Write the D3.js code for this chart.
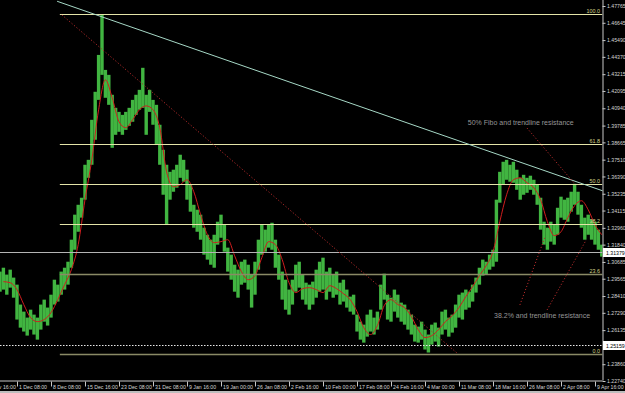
<!DOCTYPE html>
<html>
<head>
<meta charset="utf-8">
<script src="https://cdn.jsdelivr.net/npm/d3@7"></script>
<style>
  body { margin: 0; background: #000; overflow: hidden; }
  svg { display: block; font-family: "Liberation Sans", Arial, sans-serif; }
</style>
</head>
<body>
<svg id="chart" width="625" height="393"></svg>
<script>
/* price axis labels (right side) */
const priceTicks = [1.47765, 1.46645, 1.45490, 1.44370, 1.43215, 1.42095, 1.40940, 1.39785,
    1.38665, 1.37510, 1.36390, 1.35235, 1.34115, 1.32960, 1.31840, 1.30685, 1.29565,
    1.28410, 1.27290, 1.26135, 1.23860, 1.22740];

/* time axis labels, one every barsPerLabel bars */
const timeLabels = ["24 Nov 16:00", "1 Dec 08:00", "8 Dec 08:00", "15 Dec 16:00", "23 Dec 08:00",
    "31 Dec 08:00", "9 Jan 16:00", "19 Jan 00:00", "26 Jan 08:00", "2 Feb 16:00", "10 Feb 00:00",
    "17 Feb 08:00", "24 Feb 16:00", "4 Mar 00:00", "11 Mar 08:00", "18 Mar 16:00", "26 Mar 08:00",
    "2 Apr 08:00", "9 Apr 16:00"];
const barsPerLabel = 10;

/* price bars, first visible bar index = firstBar */
const firstBar = 5;
const barHigh = [
    1.3004, 1.3030, 1.2984, 1.3017, 1.2964, 1.2917, 1.2784, 1.2737, 1.2697, 1.2750,
    1.2717, 1.2697, 1.2784, 1.2817, 1.2764, 1.2850, 1.2950, 1.2917, 1.3004, 1.3030,
    1.3070, 1.3217, 1.3384, 1.3450, 1.3497, 1.3717, 1.3750, 1.4017, 1.4204, 1.4450,
    1.4717, 1.4350, 1.4317, 1.4184, 1.4097, 1.4070, 1.4050, 1.4070, 1.4097, 1.4150,
    1.4184, 1.4217, 1.4364, 1.4184, 1.4217, 1.4150, 1.4117, 1.3984, 1.3817, 1.3717,
    1.3670, 1.3684, 1.3717, 1.3784, 1.3750, 1.3684, 1.3584, 1.3450, 1.3417, 1.3384,
    1.3297, 1.3250, 1.3217, 1.3250, 1.3337, 1.3384, 1.3317, 1.3164, 1.3117, 1.3050,
    1.3017, 1.3070, 1.3084, 1.3050, 1.2984, 1.3070, 1.3217, 1.3317, 1.3284, 1.3317,
    1.3330, 1.3217, 1.3117, 1.3004, 1.2950, 1.2884, 1.2950, 1.3050, 1.3070, 1.2984,
    1.2930, 1.2917, 1.2937, 1.3017, 1.3070, 1.3097, 1.3004, 1.3030, 1.2984, 1.3004,
    1.2930, 1.2950, 1.2884, 1.2837, 1.2850, 1.2717, 1.2670, 1.2650, 1.2717, 1.2750,
    1.2697, 1.2737, 1.2917, 1.2990, 1.2850, 1.2830, 1.2884, 1.2850, 1.2797, 1.2784,
    1.2750, 1.2717, 1.2650, 1.2637, 1.2670, 1.2617, 1.2584, 1.2650, 1.2664, 1.2630,
    1.2737, 1.2750, 1.2697, 1.2717, 1.2784, 1.2850, 1.2864, 1.2884, 1.2870, 1.2917,
    1.2964, 1.3030, 1.3084, 1.3070, 1.3117, 1.3150, 1.3484, 1.3670, 1.3737, 1.3750,
    1.3717, 1.3737, 1.3684, 1.3630, 1.3650, 1.3630, 1.3644, 1.3617, 1.3584, 1.3497,
    1.3337, 1.3297, 1.3337, 1.3317, 1.3430, 1.3504, 1.3484, 1.3497, 1.3537, 1.3590,
    1.3537, 1.3450, 1.3364, 1.3384, 1.3350, 1.3337, 1.3284, 1.3184];
const barLow = [
    1.2870, 1.2884, 1.2850, 1.2897, 1.2830, 1.2684, 1.2630, 1.2604, 1.2577, 1.2617,
    1.2584, 1.2550, 1.2617, 1.2670, 1.2644, 1.2697, 1.2784, 1.2804, 1.2850, 1.2884,
    1.2917, 1.3030, 1.3150, 1.3270, 1.3364, 1.3484, 1.3630, 1.3717, 1.3884, 1.4150,
    1.4317, 1.4164, 1.4117, 1.3830, 1.3917, 1.3937, 1.3917, 1.3950, 1.3977, 1.4004,
    1.4050, 1.4084, 1.4097, 1.3917, 1.4070, 1.3984, 1.3850, 1.3717, 1.3517, 1.3317,
    1.3484, 1.3537, 1.3564, 1.3630, 1.3604, 1.3484, 1.3404, 1.3297, 1.3270, 1.3217,
    1.3117, 1.3084, 1.3050, 1.3030, 1.3184, 1.3230, 1.3137, 1.3004, 1.2950, 1.2870,
    1.2830, 1.2917, 1.2930, 1.2884, 1.2764, 1.2850, 1.3017, 1.3117, 1.3137, 1.3164,
    1.3150, 1.3030, 1.2950, 1.2817, 1.2750, 1.2717, 1.2784, 1.2870, 1.2897, 1.2817,
    1.2784, 1.2750, 1.2784, 1.2830, 1.2870, 1.2884, 1.2817, 1.2870, 1.2830, 1.2850,
    1.2784, 1.2804, 1.2764, 1.2737, 1.2717, 1.2604, 1.2550, 1.2530, 1.2570, 1.2604,
    1.2584, 1.2617, 1.2750, 1.2817, 1.2684, 1.2670, 1.2737, 1.2697, 1.2670, 1.2650,
    1.2617, 1.2584, 1.2537, 1.2530, 1.2550, 1.2484, 1.2464, 1.2517, 1.2537, 1.2504,
    1.2584, 1.2617, 1.2570, 1.2597, 1.2630, 1.2697, 1.2684, 1.2750, 1.2764, 1.2804,
    1.2864, 1.2917, 1.2977, 1.2984, 1.3017, 1.3037, 1.3070, 1.3464, 1.3584, 1.3617,
    1.3604, 1.3597, 1.3550, 1.3484, 1.3517, 1.3530, 1.3550, 1.3517, 1.3450, 1.3284,
    1.3184, 1.3150, 1.3204, 1.3184, 1.3250, 1.3364, 1.3350, 1.3337, 1.3404, 1.3450,
    1.3384, 1.3297, 1.3217, 1.3250, 1.3217, 1.3184, 1.3150, 1.3104];

/* moving average, one value every maStep bars starting at maFirstBar */
const maFirstBar = 6;
const maStep = 2;
const maValues = [
    1.2937, 1.2930, 1.2884, 1.2784, 1.2697, 1.2670, 1.2684, 1.2730, 1.2817, 1.2917,
    1.3017, 1.3184, 1.3484, 1.3750, 1.4084, 1.4284, 1.4164, 1.4004, 1.3964, 1.4017,
    1.4084, 1.4110, 1.4084, 1.3964, 1.3670, 1.3570, 1.3584, 1.3617, 1.3537, 1.3384,
    1.3250, 1.3197, 1.3204, 1.3217, 1.3110, 1.3004, 1.2950, 1.2977, 1.3097, 1.3204,
    1.3184, 1.3084, 1.2930, 1.2864, 1.2890, 1.2897, 1.2884, 1.2864, 1.2910, 1.2890,
    1.2857, 1.2817, 1.2737, 1.2630, 1.2584, 1.2644, 1.2777, 1.2817, 1.2784, 1.2764,
    1.2704, 1.2617, 1.2564, 1.2577, 1.2617, 1.2670, 1.2710, 1.2764, 1.2837, 1.2904,
    1.2977, 1.3044, 1.3137, 1.3337, 1.3517, 1.3617, 1.3630, 1.3597, 1.3564, 1.3484,
    1.3337, 1.3244, 1.3270, 1.3364, 1.3444, 1.3477, 1.3417, 1.3317, 1.3250];

/* fibonacci retracement */
const fibLevels = [0, 23.6, 38.2, 50, 61.8, 100];
const fibHigh = 1.4723;
const fibLow = 1.2454;
const fibStartBar = 22.6;

/* chart objects: [bar, price] end points */
const trendLine = [[21.8, 1.4808], [182.4, 1.3542]];
const dottedLines = [
    [[23.2, 1.4717], [139.4, 1.2461]],
    [[160.0, 1.3962], [174.1, 1.3589]],
    [[157.9, 1.2781], [165.3, 1.3235]],
    [[165.9, 1.2748], [177.4, 1.3215]]
];
const bidPrice = 1.31379;
const alertPrice = 1.25159;
const notes = [
    {text: "50% Fibo and trendline resistance", bar: 142.6, price: 1.3982},
    {text: "38.2% and trendline resistance", bar: 150.3, price: 1.2694}
];

const W = 625, H = 393;
const plotRight = 602.5, plotBottom = 380.5;

const svg = d3.select('#chart');
svg.append('rect').attr('width', W).attr('height', H).attr('fill', '#000');

const x = d3.scaleLinear().domain([0, 180]).range([-17, 595]);
const y = d3.scaleLinear().domain([1.22740, 1.47765]).range([381, 6]);
const barStep = x(1) - x(0);

svg.append('clipPath').attr('id', 'plot')
    .append('rect').attr('x', 0).attr('y', 0).attr('width', plotRight).attr('height', plotBottom);
const plot = svg.append('g').attr('clip-path', 'url(#plot)');

// price bars
plot.append('g').selectAll('rect')
    .data(barHigh.map((h, i) => ({bar: firstBar + i, high: h, low: barLow[i]})))
    .join('rect')
    .attr('x', d => x(d.bar) - barStep / 2)
    .attr('width', barStep)
    .attr('y', d => y(d.high))
    .attr('height', d => Math.max(1, y(d.low) - y(d.high)))
    .attr('fill', '#41b541');

// moving average
const maPoints = maValues.map((v, i) => [maFirstBar + i * maStep, v]);
plot.append('path')
    .attr('d', d3.line().x(d => x(d[0])).y(d => y(d[1])).curve(d3.curveMonotoneX)(maPoints))
    .attr('fill', 'none')
    .attr('stroke', '#d01e1e')
    .attr('stroke-width', 1);

// fibonacci levels
const fibPrice = lv => fibLow + (fibHigh - fibLow) * lv / 100;
const fib = plot.append('g');
fib.selectAll('line').data(fibLevels).join('line')
    .attr('x1', x(fibStartBar)).attr('x2', plotRight)
    .attr('y1', d => Math.round(y(fibPrice(d))) + 0.5)
    .attr('y2', d => Math.round(y(fibPrice(d))) + 0.5)
    .attr('stroke', d => (d === 0 || d === 23.6) ? '#8a8a66' : '#e4e4a8')
    .attr('stroke-width', d => (d === 0 || d === 23.6) ? 1.6 : 1);
fib.selectAll('text').data(fibLevels).join('text')
    .attr('x', 600)
    .attr('y', d => Math.round(y(fibPrice(d))) - 1)
    .attr('text-anchor', 'end')
    .attr('font-size', 5.4)
    .attr('fill', '#d4d48a')
    .text(d => d.toFixed(1));

// bid line and alert line
plot.append('line')
    .attr('x1', 0).attr('x2', plotRight)
    .attr('y1', Math.round(y(bidPrice)) + 0.5).attr('y2', Math.round(y(bidPrice)) + 0.5)
    .attr('stroke', '#b4b4b4').attr('stroke-width', 1);
plot.append('line')
    .attr('x1', 0).attr('x2', plotRight)
    .attr('y1', Math.round(y(alertPrice)) + 0.5).attr('y2', Math.round(y(alertPrice)) + 0.5)
    .attr('stroke', '#e8e8e8').attr('stroke-width', 1)
    .attr('stroke-dasharray', '1.5,1.5');

// trendline
plot.append('line')
    .attr('x1', x(trendLine[0][0])).attr('y1', y(trendLine[0][1]))
    .attr('x2', x(trendLine[1][0])).attr('y2', y(trendLine[1][1]))
    .attr('stroke', '#a6d8c6').attr('stroke-width', 1);

// dotted lines
plot.append('g').selectAll('line').data(dottedLines).join('line')
    .attr('x1', d => x(d[0][0])).attr('y1', d => y(d[0][1]))
    .attr('x2', d => x(d[1][0])).attr('y2', d => y(d[1][1]))
    .attr('stroke', '#b02a2a').attr('stroke-width', 1)
    .attr('stroke-dasharray', '1.2,2');

// notes
plot.append('g').selectAll('text').data(notes).join('text')
    .attr('x', d => x(d.bar))
    .attr('y', d => y(d.price))
    .attr('font-size', 7)
    .attr('fill', '#969696')
    .text(d => d.text);

// right price axis
const yAxis = svg.append('g')
    .attr('transform', `translate(${plotRight},0)`)
    .call(d3.axisRight(y).tickValues(priceTicks).tickSize(3).tickPadding(1.5)
        .tickFormat(d3.format('.5f')));
yAxis.select('.domain').attr('stroke', '#c8c8c8').attr('d', `M0.5,0V${plotBottom}`);
yAxis.selectAll('.tick line').attr('stroke', '#c8c8c8');
yAxis.selectAll('.tick text').attr('fill', '#d4d4d4').attr('font-size', 5.2)
    .attr('font-family', '"Liberation Sans", Arial, sans-serif');

// bottom time axis
const labelBars = timeLabels.map((d, i) => i * barsPerLabel);
const xAxis = svg.append('g')
    .attr('transform', `translate(0,${plotBottom})`)
    .call(d3.axisBottom(x).tickValues(labelBars).tickSize(6)
        .tickFormat((d, i) => timeLabels[i]));
xAxis.select('.domain').attr('stroke', '#c8c8c8').attr('d', `M0,0.5H${plotRight}`);
xAxis.selectAll('.tick line').attr('stroke', '#c8c8c8').attr('y1', 1);
xAxis.selectAll('.tick text')
    .attr('fill', '#d4d4d4').attr('font-size', 5.2)
    .attr('font-family', '"Liberation Sans", Arial, sans-serif')
    .attr('text-anchor', 'start').attr('x', 1.5).attr('y', 8).attr('dy', 0);

// price boxes on the axis
const boxes = svg.append('g').selectAll('g').data([bidPrice, alertPrice]).join('g')
    .attr('transform', d => `translate(${plotRight + 0.5},${Math.round(y(d)) + 0.5})`);
boxes.append('rect').attr('x', 0).attr('y', -4.5).attr('width', 22).attr('height', 9)
    .attr('fill', '#fff');
boxes.append('text').attr('x', 3).attr('y', 2)
    .attr('font-size', 5.2).attr('fill', '#000')
    .text(d => d3.format('.5f')(d));

// window edge at bottom
svg.append('rect').attr('x', 0).attr('y', 391).attr('width', W).attr('height', 2).attr('fill', '#bdbdbd');
</script>
</body>
</html>
